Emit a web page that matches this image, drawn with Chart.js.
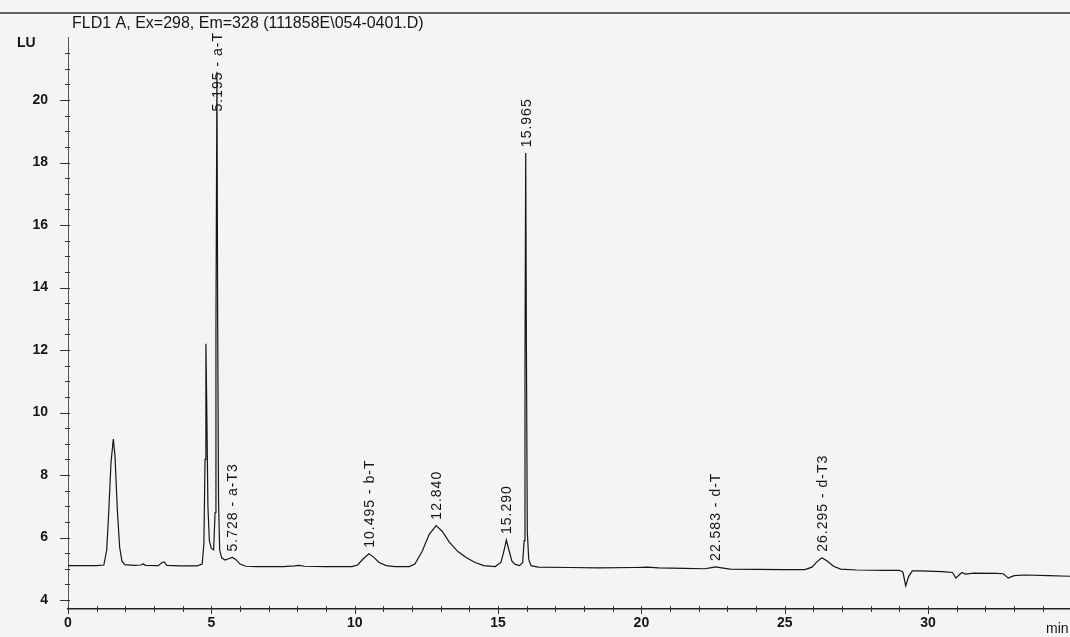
<!DOCTYPE html>
<html>
<head>
<meta charset="utf-8">
<title>FLD1 A chromatogram</title>
<script src="https://cdn.jsdelivr.net/npm/chart.js@4.4.1/dist/chart.umd.min.js"></script>
<style>
  html, body { margin: 0; padding: 0; background: #f4f4f2; }
  #wrap { width: 1070px; height: 637px; }
</style>
</head>
<body>
<div id="wrap"><canvas id="chrom" width="1070" height="637"></canvas></div>
<script>
// detector trace, time in min / signal in LU
const retentionTime = [
  0.00, 0.50, 1.00, 1.25, 1.35, 1.42, 1.50, 1.58, 1.64, 1.72, 1.80, 1.88, 1.98,
  2.30, 2.55, 2.62, 2.70, 3.15, 3.28, 3.36, 3.45, 3.90, 4.50, 4.68, 4.74, 4.78,
  4.81, 4.84, 4.88, 4.93, 5.00, 5.08, 5.13, 5.16, 5.195, 5.22, 5.25, 5.29, 5.36,
  5.48, 5.60, 5.728, 5.85, 6.00, 6.20, 6.60, 7.50, 7.90, 8.05, 8.25, 9.00, 9.90,
  10.10, 10.30, 10.495, 10.65, 10.85, 11.10, 11.40, 11.90, 12.10, 12.35, 12.60,
  12.84, 13.05, 13.30, 13.60, 13.90, 14.20, 14.50, 14.90, 15.10, 15.20, 15.29,
  15.38, 15.48, 15.60, 15.75, 15.86, 15.91, 15.94, 15.965, 15.99, 16.02, 16.07,
  16.15, 16.40, 17.50, 18.50, 19.80, 20.20, 20.60, 21.50, 22.20, 22.40, 22.583,
  22.80, 23.10, 24.00, 25.00, 25.70, 25.95, 26.12, 26.295, 26.48, 26.70, 26.95,
  27.50, 28.50, 29.00, 29.12, 29.22, 29.32, 29.45, 29.70, 30.50, 30.85, 30.97,
  31.08, 31.18, 31.30, 31.60, 32.40, 32.62, 32.80, 33.00, 33.40, 34.20, 34.95
];
const signalLU = [
  5.10, 5.10, 5.10, 5.12, 5.60, 6.80, 8.40, 9.15, 8.60, 6.90, 5.70, 5.25, 5.13,
  5.11, 5.12, 5.16, 5.11, 5.10, 5.20, 5.22, 5.11, 5.09, 5.09, 5.15, 5.80, 8.50,
  12.20, 10.20, 7.00, 5.90, 5.65, 5.60, 6.80, 12.50, 20.90, 13.00, 7.20, 5.60, 5.35,
  5.28, 5.32, 5.36, 5.30, 5.15, 5.08, 5.07, 5.07, 5.09, 5.11, 5.08, 5.07, 5.07,
  5.12, 5.32, 5.48, 5.38, 5.20, 5.10, 5.07, 5.07, 5.15, 5.55, 6.10,
  6.38, 6.20, 5.85, 5.55, 5.35, 5.20, 5.10, 5.07, 5.20, 5.55, 5.92,
  5.60, 5.25, 5.14, 5.10, 5.20, 5.90, 11.50, 18.30, 12.00, 6.20, 5.30,
  5.10, 5.05, 5.04, 5.03, 5.04, 5.05, 5.03, 5.01, 5.00, 5.03, 5.06,
  5.03, 4.99, 4.98, 4.97, 4.97, 5.05, 5.22, 5.35, 5.25, 5.08, 4.99,
  4.96, 4.95, 4.95, 4.90, 4.45, 4.75, 4.93, 4.93, 4.91, 4.88, 4.70,
  4.80, 4.88, 4.83, 4.86, 4.85, 4.84, 4.70, 4.78, 4.80, 4.78, 4.76
];

// integrated peaks: retention time and name printed above each
const peakTimes = [5.195, 5.728, 10.495, 12.84, 15.29, 15.965, 22.583, 26.295];
const peakNames = ['5.195 - a-T', '5.728 - a-T3', '10.495 - b-T', '12.840', '15.290', '15.965', '22.583 - d-T', '26.295 - d-T3'];

const xTickLabels = [0, 5, 10, 15, 20, 25, 30];
const yTickLabels = [4, 6, 8, 10, 12, 14, 16, 18, 20];

const points = retentionTime.map((t, i) => ({ x: t, y: signalLU[i] }));

const ink = '#151515';
const sans = "'Liberation Sans', Arial, sans-serif";
const isLabelled = (list, v) => list.some(t => Math.abs(t - v) < 1e-6);

const chromPlugin = {
  id: 'chromPlugin',
  beforeDraw(chart) {
    const ctx = chart.ctx;
    ctx.save();
    ctx.fillStyle = '#f4f4f2';
    ctx.fillRect(0, 0, chart.width, chart.height);
    ctx.restore();
  },
  afterDatasetsDraw(chart) {
    const ctx = chart.ctx;
    const xs = chart.scales.x, ys = chart.scales.y;
    ctx.save();
    ctx.font = '14px ' + sans;
    ctx.letterSpacing = '1px';
    ctx.fillStyle = ink;
    ctx.textBaseline = 'middle';
    ctx.textAlign = 'left';
    peakTimes.forEach((t, i) => {
      const idx = retentionTime.indexOf(t);
      const px = xs.getPixelForValue(t);
      const py = ys.getPixelForValue(signalLU[idx]);
      const len = ctx.measureText(peakNames[i]).width;
      // keep tall peaks' labels inside the top of the plot
      const start = Math.max(py - 6, 32 + len);
      ctx.save();
      ctx.translate(px + 1, start);
      ctx.rotate(-Math.PI / 2);
      ctx.fillText(peakNames[i], 0, 0);
      ctx.restore();
    });
    ctx.restore();
  },
  afterDraw(chart) {
    const ctx = chart.ctx;
    const xs = chart.scales.x, ys = chart.scales.y;
    const area = chart.chartArea;
    ctx.save();

    // rule above the header
    ctx.strokeStyle = '#333';
    ctx.lineWidth = 1.5;
    ctx.beginPath();
    ctx.moveTo(0, 13);
    ctx.lineTo(chart.width, 13);
    ctx.stroke();

    ctx.fillStyle = ink;
    ctx.textBaseline = 'alphabetic';
    ctx.textAlign = 'left';
    ctx.font = '16px ' + sans;
    ctx.fillText('FLD1 A, Ex=298, Em=328 (111858E\\054-0401.D)', 72, 28);
    ctx.font = 'bold 14px ' + sans;
    ctx.fillText('LU', 17, 47);
    ctx.font = '14px ' + sans;
    ctx.fillText('min', 1046, 633);

    // y ticks every 0.5 LU, longer at labelled values
    ctx.strokeStyle = '#333';
    ctx.lineWidth = 1;
    for (let v = 4; v <= 21.5; v += 0.5) {
      const y = Math.round(ys.getPixelForValue(v)) + 0.5;
      const major = isLabelled(yTickLabels, v);
      ctx.beginPath();
      ctx.moveTo(area.left - (major ? 8 : 3), y);
      ctx.lineTo(area.left + 2, y);
      ctx.stroke();
    }
    // x ticks every minute, crossing the axis
    for (let t = 0; t <= 34; t += 1) {
      const x = Math.round(xs.getPixelForValue(t)) + 0.5;
      const major = isLabelled(xTickLabels, t);
      ctx.beginPath();
      ctx.moveTo(x, area.bottom - 3);
      ctx.lineTo(x, area.bottom + (major ? 5 : 3));
      ctx.stroke();
    }
    ctx.restore();
  }
};

new Chart(document.getElementById('chrom'), {
  type: 'line',
  data: {
    datasets: [{
      data: points,
      borderColor: ink,
      borderWidth: 1.2,
      pointRadius: 0,
      tension: 0,
      fill: false
    }]
  },
  options: {
    responsive: false,
    animation: false,
    parsing: false,
    layout: { padding: { top: 37, right: 0, bottom: 0, left: 0 } },
    plugins: {
      legend: { display: false },
      tooltip: { enabled: false }
    },
    scales: {
      x: {
        type: 'linear',
        min: 0,
        max: 34.95,
        afterFit(scale) { scale.height = 28; },
        grid: { drawOnChartArea: false, color: 'transparent', tickLength: 4 },
        border: { display: true, color: '#222', width: 1.5 },
        ticks: {
          stepSize: 1,
          includeBounds: false,
          autoSkip: false,
          maxRotation: 0,
          padding: 2,
          color: ink,
          font: { family: sans, size: 14, weight: 'bold' },
          callback: (v) => isLabelled(xTickLabels, v) ? String(Math.round(v)) : ''
        }
      },
      y: {
        min: 3.712,
        max: 22.016,
        afterFit(scale) { scale.width = 68; },
        grid: { drawOnChartArea: false, color: 'transparent', tickLength: 8 },
        border: { display: true, color: '#555', width: 1 },
        ticks: {
          stepSize: 0.5,
          includeBounds: false,
          autoSkip: false,
          padding: 12,
          color: ink,
          font: { family: sans, size: 14, weight: 'bold' },
          callback: (v) => isLabelled(yTickLabels, v) ? String(Math.round(v)) : ''
        }
      }
    }
  },
  plugins: [chromPlugin]
});
</script>
</body>
</html>
